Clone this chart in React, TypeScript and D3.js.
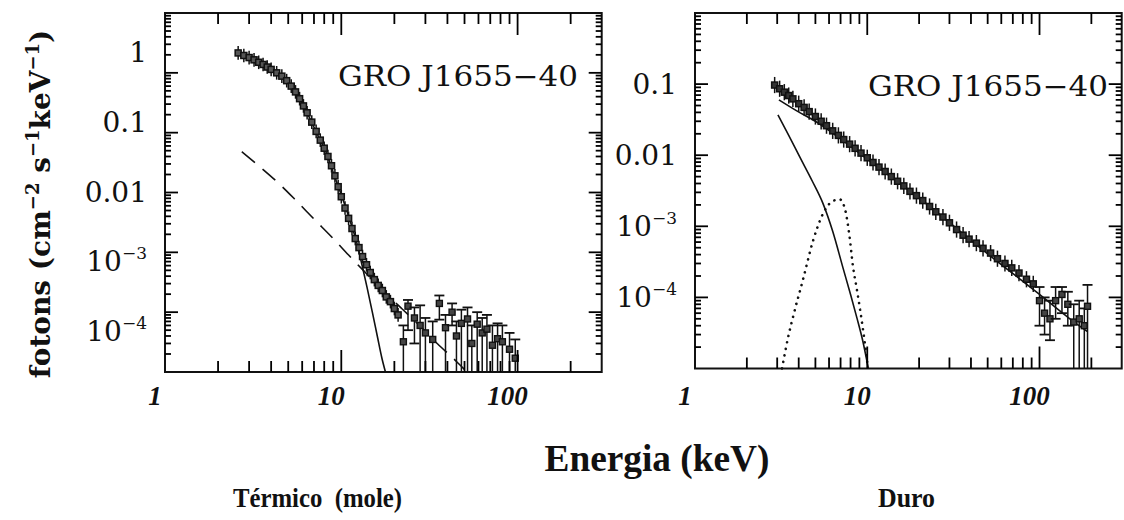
import React from 'react'
import * as d3 from 'd3'

// ---- Térmico (mole): GRO J1655-40 thermal state ----
const thermE = [2.6, 2.8, 3.0, 3.2, 3.4, 3.6, 3.8, 4.0, 4.3, 4.6, 4.9, 5.2, 5.5, 5.8, 6.1, 6.4, 6.8, 7.2, 7.6, 8.0,
  8.4, 8.8, 9.2, 9.6, 10.0, 10.5, 11.0, 11.5, 12.0, 12.6, 13.2, 13.9, 14.6, 15.4, 16.2, 17.1, 18.0, 19.0, 20.0, 21.0]
const thermF = [2.15, 1.95, 1.8, 1.65, 1.5, 1.38, 1.25, 1.14, 1.0, 0.88, 0.74, 0.6, 0.48, 0.37, 0.28, 0.215, 0.15, 0.105, 0.075, 0.055,
  0.04, 0.028, 0.019, 0.0125, 0.0085, 0.0055, 0.0037, 0.0025, 0.0017, 0.0012, 8.5e-4, 6.2e-4, 4.6e-4, 3.5e-4, 2.8e-4, 2.3e-4, 1.8e-4, 1.5e-4, 1.15e-4, 9e-5]
// sparse high-energy points, lo = 0 means the bar reaches the axis
const thermTailE = [22.5, 23.9, 26, 28, 30, 33, 36, 39, 42.5, 45, 48, 52, 55, 59, 63, 67, 72, 77, 82, 90, 97]
const thermTailF = [3.2e-5, 1.26e-4, 8e-5, 6e-5, 4.5e-5, 3.5e-5, 1.4e-4, 5.5e-5, 1.0e-4, 4e-5, 6.5e-5, 7.7e-5, 3e-5, 6.3e-5, 4.5e-5, 5.2e-5, 2.8e-5, 3.6e-5, 3.2e-5, 2.4e-5, 1.7e-5]
const thermTailHi = [6e-5, 1.6e-4, 1.2e-4, 1.3e-4, 8e-5, 7e-5, 1.9e-4, 9e-5, 1.4e-4, 7e-5, 1.1e-4, 1.2e-4, 6e-5, 1e-4, 8e-5, 9e-5, 6e-5, 6.5e-5, 6e-5, 4.5e-5, 3.5e-5]
const thermTailLo = [0, 5e-5, 3e-5, 0, 0, 0, 7.5e-5, 0, 6e-5, 0, 0, 0, 0, 0, 0, 0, 0, 0, 0, 0, 0]
const thermDiskE = [2.6, 3.0, 3.5, 4.0, 4.67, 5.5, 6.4, 7.3, 8.3, 9.2, 10.2, 11.2, 12.2, 13.1, 14.0, 15.0, 16.0, 17.0, 17.8]
const thermDiskF = [2.1, 1.78, 1.45, 1.15, 0.86, 0.5, 0.215, 0.095, 0.043, 0.018, 0.0078, 0.0034, 0.0015, 6.2e-4, 2.6e-4, 1e-4, 4e-5, 1.7e-5, 1e-5]
const thermPlE = [2.73, 3.5, 4.5, 5.5, 7, 9, 11, 13.5, 17, 22, 27, 35, 45, 50]
const thermPlF = [0.048, 0.026, 0.0135, 0.0075, 0.0036, 0.0017, 9e-4, 4.8e-4, 2.4e-4, 1.15e-4, 6.5e-5, 3e-5, 1.5e-5, 1.1e-5]

// ---- Duro: hard state ----
const hardE = [2.9, 3.1, 3.3, 3.5, 3.7, 4.0, 4.3, 4.6, 5.0, 5.4, 5.8, 6.3, 6.8, 7.3, 7.9, 8.5, 9.2, 10, 10.8, 11.7, 12.7, 13.8,
  15, 16.3, 17.7, 19.3, 21, 23, 25, 27.5, 30, 33, 36, 39, 43, 47, 52, 57, 63, 69, 76, 84, 92]
const hardF = [0.097, 0.086, 0.077, 0.069, 0.062, 0.053, 0.047, 0.041, 0.035, 0.030, 0.026, 0.022, 0.019, 0.0166, 0.0143, 0.0125, 0.0107, 0.0092, 0.0079, 0.0068, 0.0059, 0.0050,
  0.0043, 0.0037, 0.0031, 0.0027, 0.0023, 0.0019, 0.0016, 0.00135, 0.00112, 0.0009, 0.00075, 0.00066, 0.00058, 0.00049, 0.00042, 0.00035, 0.0003, 0.00026, 0.00022, 0.00018, 0.000155]
const hardTailE = [100, 107, 115, 124, 135, 146, 158, 170, 182, 190]
const hardTailF = [9e-5, 6e-5, 5e-5, 9e-5, 1.1e-4, 8e-5, 4.5e-5, 5e-5, 4e-5, 7.5e-5]
const hardTailHi = [1.4e-4, 1e-4, 9e-5, 1.4e-4, 1.4e-4, 1.2e-4, 8e-5, 9e-5, 7e-5, 1.5e-4]
const hardTailLo = [4e-5, 3e-5, 2.5e-5, 5e-5, 6e-5, 4e-5, 0, 0, 0, 0]
const hardDiskE = [3.03, 3.5, 4.07, 4.8, 5.53, 6.3, 7.23, 8.0, 8.7, 9.4, 10.15]
const hardDiskF = [0.037, 0.019, 0.0093, 0.0043, 0.0021, 8.5e-4, 2.6e-4, 1.1e-4, 5.2e-5, 2.5e-5, 1e-5]
const hardPlE = [3.07, 3.9, 5, 7, 10, 20, 50, 100, 150, 190]
const hardPlF = [0.06, 0.042, 0.03, 0.017, 0.0088, 0.0025, 4.1e-4, 1.1e-4, 5e-5, 3.3e-5]
const hardLineE = [3.2, 3.5, 3.7, 4.24, 4.85, 5.53, 6.2, 6.9, 7.4, 7.9, 8.25, 8.7, 9.1, 9.7, 10.1]
const hardLineF = [1e-5, 3e-5, 5.2e-5, 1.8e-4, 6.3e-4, 1.5e-3, 2.2e-3, 2.4e-3, 1.8e-3, 7e-4, 2.8e-4, 1.3e-4, 6.6e-5, 2.2e-5, 1e-5]

const xTickLabels = [1, 10, 100]
const leftYLabels = [1, 0.1, 0.01, 1e-3, 1e-4]
const rightYLabels = [0.1, 0.01, 1e-3, 1e-4]
const tickMultiples = [1, 2, 3, 4, 5, 6, 7, 8, 9]
const sourceName = 'GRO J1655\u221240'

const serif = "'DejaVu Serif', serif"
const ink = '#111'

// panel frames (layout)
const leftBox = { x0: 165, x1: 601.7, y0: 13, y1: 372, yDomain: [1e-5, 10] }
const rightBox = { x0: 695, x1: 1121.7, y0: 13, y1: 368.5, yDomain: [1e-5, 1] }
const xDomain = [1, 300]

// all log ticks (1..9 x 10^p) strictly inside the domain
function logTicks(domain) {
  const p0 = Math.floor(Math.log10(domain[0]))
  const p1 = Math.ceil(Math.log10(domain[1]))
  const out = []
  d3.range(p0, p1 + 1).forEach(p => tickMultiples.forEach(m => {
    const v = m * Math.pow(10, p)
    if (v > domain[0] * 1.001 && v < domain[1] * 0.999) out.push({ v, major: m === 1 })
  }))
  return out
}

function scalesFor(box) {
  return {
    xs: d3.scaleLog().domain(xDomain).range([box.x0, box.x1]),
    ys: d3.scaleLog().domain(box.yDomain).range([box.y1, box.y0]),
  }
}

// one <line> per tick, on all four sides of a frame
function tickSegments(box) {
  const { xs, ys } = scalesFor(box)
  const { x0, x1, y0, y1 } = box
  const segs = []
  logTicks(xDomain).forEach(t => {
    const x = xs(t.v), len = t.major ? 22 : 11
    segs.push([x, y1, x, y1 - len], [x, y0, x, y0 + len])
  })
  logTicks(box.yDomain).forEach(t => {
    const y = ys(t.v), len = t.major ? 13 : 6
    segs.push([x0, y, x0 + len, y], [x1, y, x1 - len, y])
  })
  return segs
}

function YLabel({ v, x, y }) {
  const exp = Math.round(Math.log10(v))
  if (exp >= -2) {
    return <text x={x} y={y + 10} textAnchor="end" fontFamily={serif} fontSize={28} fill={ink}>{String(v)}</text>
  }
  return (
    <text x={x} y={y + 10} textAnchor="end" fontFamily={serif} fontSize={28} fill={ink}>
      10<tspan fontSize={17} dy={-12}>{'\u2212' + (-exp)}</tspan>
    </text>
  )
}

function Panel(props) {
  const { box, ptsE, ptsF, tailE, tailF, tailHi, tailLo, curves, labelY, yLabels, labelX, titleY, markFill } = props
  const { xs, ys } = scalesFor(box)
  const { x0, x1, y0, y1 } = box
  const yOf = (v) => (v <= 0 ? y1 : ys(v))

  return (
    <g>
      {curves.map((c, k) => {
        const line = d3.line().x((_, i) => xs(c.e[i])).y((_, i) => ys(c.f[i])).curve(d3.curveMonotoneX)
        return <path key={'c' + k} d={line(c.e)} fill="none" stroke={ink} strokeWidth={c.width || 1.6}
          strokeDasharray={c.dash} strokeLinecap={c.cap || 'butt'} />
      })}
      {ptsE.map((e, i) => {
        const px = xs(e), py = ys(ptsF[i])
        return (
          <g key={'p' + i} stroke={ink} fill="none">
            <line x1={px} x2={px} y1={ys(ptsF[i] * 1.3)} y2={ys(ptsF[i] / 1.3)} strokeWidth={1.5} />
            <line x1={xs(e * 0.96)} x2={xs(e * 1.04)} y1={py} y2={py} strokeWidth={1.5} />
            <rect x={px - 3} y={py - 3} width={6} height={6} strokeWidth={1.5} fill={markFill} />
          </g>
        )
      })}
      {tailE.map((e, i) => {
        const px = xs(e), py = ys(tailF[i])
        const yh = yOf(tailHi[i]), yl = yOf(tailLo[i])
        return (
          <g key={'t' + i} stroke={ink} fill="none">
            <line x1={px} x2={px} y1={yh} y2={yl} strokeWidth={1.5} />
            <line x1={px - 5} x2={px + 5} y1={yh} y2={yh} strokeWidth={1.8} />
            {tailLo[i] > 0 && <line x1={px - 5} x2={px + 5} y1={yl} y2={yl} strokeWidth={1.8} />}
            <line x1={xs(e * 0.96)} x2={xs(e * 1.04)} y1={py} y2={py} strokeWidth={1.3} />
            <rect x={px - 3} y={py - 3} width={6} height={6} strokeWidth={1.4} fill="#444" />
          </g>
        )
      })}
      <rect x={x0} y={y0} width={x1 - x0} height={y1 - y0} fill="none" stroke={ink} strokeWidth={2} />
      <text x={labelX} y={titleY} fontFamily={serif} fontSize={28} textLength={240} lengthAdjust="spacingAndGlyphs" fill={ink}>{sourceName}</text>
      {xTickLabels.map(v => (
        <text key={'xl' + v} x={xs(v) - 10} y={405} textAnchor="middle" fontFamily="'Liberation Serif', serif"
          fontWeight="bold" fontStyle="italic" fontSize={27} fill={ink}>{v}</text>
      ))}
      {yLabels.map(v => <YLabel key={'yl' + v} v={v} x={x0 - 18} y={labelY(v)} />)}
    </g>
  )
}

export default function App() {
  const leftLabelScale = d3.scaleLog().domain([1e-4, 1]).range([331, 52])
  const rightYs = scalesFor(rightBox).ys
  const segs = tickSegments(leftBox).concat(tickSegments(rightBox))

  return (
    <svg width={1124} height={520} style={{ position: 'absolute', left: 0, top: 0 }}>
      <Panel box={leftBox}
        ptsE={thermE} ptsF={thermF} tailE={thermTailE} tailF={thermTailF} tailHi={thermTailHi} tailLo={thermTailLo}
        curves={[
          { e: thermDiskE, f: thermDiskF },
          { e: thermPlE, f: thermPlF, dash: '17 10' },
        ]}
        markFill="#555"
        labelY={(v) => leftLabelScale(v)} yLabels={leftYLabels} labelX={338} titleY={86} />
      <Panel box={rightBox}
        ptsE={hardE} ptsF={hardF} tailE={hardTailE} tailF={hardTailF} tailHi={hardTailHi} tailLo={hardTailLo}
        curves={[
          { e: hardPlE, f: hardPlF },
          { e: hardDiskE, f: hardDiskF },
          { e: hardLineE, f: hardLineF, dash: '0.1 6.5', width: 2.6, cap: 'round' },
        ]}
        markFill="#333"
        labelY={(v) => rightYs(v)} yLabels={rightYLabels} labelX={868} titleY={96} />
      <g>
        {segs.map((s, i) => (
          <line key={'tk' + i} x1={s[0]} y1={s[1]} x2={s[2]} y2={s[3]} stroke="#000" strokeWidth={1.8} />
        ))}
      </g>

      <g transform="translate(50,204) rotate(-90)">
        <text textAnchor="middle" fontFamily={serif} fontWeight="bold" fontSize={28} fill={ink}>
          fotons (cm<tspan fontSize={18} dy={-11}>{'\u22122'}</tspan>
          <tspan dy={11}> s</tspan><tspan fontSize={18} dy={-11}>{'\u22121'}</tspan>
          <tspan dy={11}>keV</tspan><tspan fontSize={18} dy={-11}>{'\u22121'}</tspan>
          <tspan dy={11}>)</tspan>
        </text>
      </g>
      <text x={657} y={471} textAnchor="middle" fontFamily="'Liberation Serif', serif" fontWeight="bold" fontSize={37}
        textLength={225} lengthAdjust="spacingAndGlyphs" fill={ink}>Energia (keV)</text>
      <text x={233} y={507} fontFamily="'Liberation Serif', serif" fontWeight="bold" fontSize={28}
        textLength={169} lengthAdjust="spacingAndGlyphs" fill={ink}>{'Térmico\u00a0\u00a0(mole)'}</text>
      <text x={878} y={507} fontFamily="'Liberation Serif', serif" fontWeight="bold" fontSize={28}
        textLength={57} lengthAdjust="spacingAndGlyphs" fill={ink}>Duro</text>
    </svg>
  )
}
